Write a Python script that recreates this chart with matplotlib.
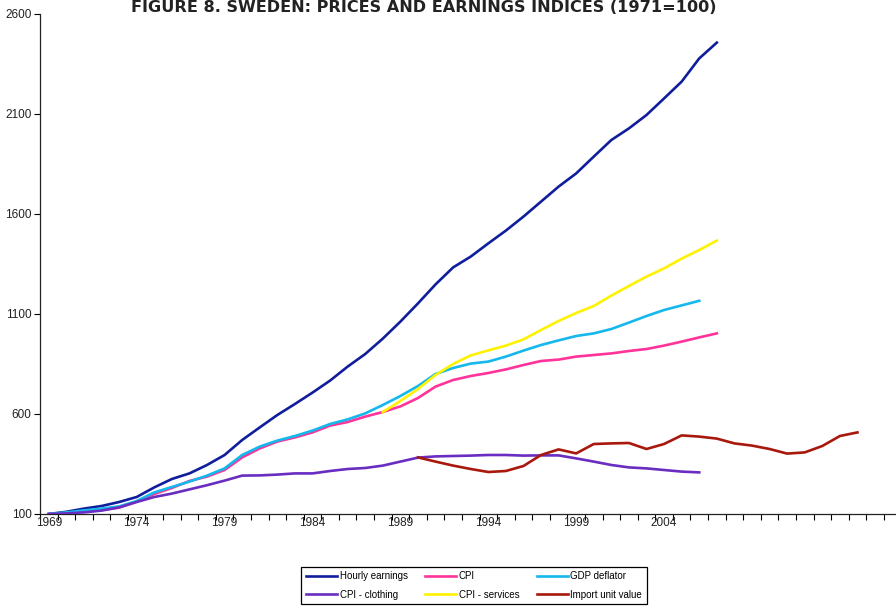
import numpy as np
import matplotlib
matplotlib.use("Agg")
import matplotlib.pyplot as plt

plt.rcParams["font.family"] = ["Liberation Sans", "DejaVu Sans"]

# category axis: one slot per year
years = list(range(1969, 2019))
label_years = [1969, 1974, 1979, 1984, 1989, 1994, 1999, 2004]

hourly_earnings = [100, 111, 127, 140, 160, 185, 233, 275, 303, 345, 395, 470,
                   533, 595, 650, 707, 767, 837, 900, 977, 1062, 1153, 1248,
                   1333, 1387, 1453, 1517, 1587, 1662, 1737, 1803, 1887, 1970,
                   2028, 2095, 2178, 2262, 2378, 2457]          # 1969-2007
cpi = [100, 105, 112, 120, 132, 162, 200, 230, 265, 287, 320, 383, 428, 462,
       483, 508, 542, 560, 587, 610, 638, 680, 737, 770, 790, 805, 823, 845,
       865, 872, 887, 895, 903, 915, 925, 942, 962, 983, 1003]  # 1969-2007
gdp_deflator = [100, 108, 118, 127, 138, 165, 208, 235, 262, 292, 328, 395,
                437, 467, 490, 517, 550, 573, 603, 645, 690, 740, 800, 830,
                852, 862, 887, 917, 945, 968, 990, 1003, 1025, 1057, 1090,
                1120, 1143, 1166]                               # 1969-2006
cpi_clothing = [100, 103, 108, 117, 133, 160, 185, 202, 223, 244, 267, 292,
                293, 297, 303, 303, 315, 325, 330, 342, 362, 382, 388, 390,
                392, 395, 395, 392, 393, 393, 378, 362, 345, 333, 328, 320,
                312, 308]                                       # 1969-2006
cpi_services = [610, 665, 725, 795, 850, 893, 918, 942, 973, 1020, 1065, 1105,
                1140, 1192, 1240, 1287, 1328, 1377, 1420, 1467]  # 1988-2007
import_unit_value = [383, 362, 342, 325, 310, 315, 340, 395, 423, 403, 450,
                     453, 455, 425, 450, 493, 487, 477, 453, 442, 425, 402,
                     408, 440, 490, 508]                        # 1990-2015

series = [
    ("Hourly earnings", 1969, hourly_earnings, "#101E9C"),
    ("CPI - clothing", 1969, cpi_clothing, "#6A2DC2"),
    ("CPI", 1969, cpi, "#FF3399"),
    ("CPI - services", 1988, cpi_services, "#FFF200"),
    ("GDP deflator", 1969, gdp_deflator, "#14B8EC"),
    ("Import unit value", 1990, import_unit_value, "#A8180C"),
]
draw_order = ["Hourly earnings", "CPI", "GDP deflator", "CPI - clothing",
              "CPI - services", "Import unit value"]


def year_pos(start, n):
    i0 = years.index(start)
    return np.arange(i0, i0 + n)


fig = plt.figure(figsize=(8.96, 6.10), dpi=100)
n_cat = len(years)
left_px, bottom_px, top_px, slot_px = 40, 514, 14, 17.58
ax = fig.add_axes([left_px / 896, 1 - bottom_px / 610,
                   n_cat * slot_px / 896, (bottom_px - top_px) / 610])

lines = {}
for name, start, vals, color in series:
    z = 2 + draw_order.index(name)
    ln, = ax.plot(year_pos(start, len(vals)), vals, color=color, lw=1.9,
                  label=name, zorder=z, solid_joinstyle="round")
    lines[name] = ln

ax.set_xlim(-0.5, n_cat - 0.5)
ax.set_ylim(100, 2600)
ax.set_yticks(np.arange(100, 2601, 500))
ax.tick_params(axis="y", direction="out", length=4, width=0.8,
               labelsize=8.5, pad=2, labelcolor="#222222")

# ticks between categories, labels at the centres
ax.set_xticks(np.arange(-0.5, n_cat, 1.0))
ax.set_xticklabels([])
ax.tick_params(axis="x", which="major", direction="out", length=4, width=0.8)
ax.set_xticks([years.index(y) for y in label_years], minor=True)
ax.set_xticklabels([str(y) for y in label_years], minor=True)
ax.tick_params(axis="x", which="minor", length=0, labelsize=8.5, pad=2,
               labelcolor="#222222")

for side in ("top", "right"):
    ax.spines[side].set_visible(False)
for side in ("left", "bottom"):
    ax.spines[side].set_linewidth(0.9)
    ax.spines[side].set_color("#222222")

fig.text(0.473, 1 - 8 / 610, "FIGURE 8. SWEDEN: PRICES AND EARNINGS INDICES (1971=100)",
         ha="center", va="center", fontsize=11.6, fontweight="bold",
         family=["DejaVu Sans"], color="#222222")

handles = [lines[n] for n, _, _, _ in series]
leg = fig.legend(handles=handles, labels=[h.get_label() for h in handles],
                 loc="center", bbox_to_anchor=(474 / 896, 1 - 585.5 / 610),
                 ncol=3, fontsize=7, frameon=True, fancybox=False,
                 edgecolor="black", framealpha=1, borderpad=0.5,
                 handlelength=3.2, handletextpad=0.25, columnspacing=1.8,
                 labelspacing=0.85, borderaxespad=0)
leg.get_frame().set_linewidth(0.9)

fig.savefig("out.png", dpi=100)
